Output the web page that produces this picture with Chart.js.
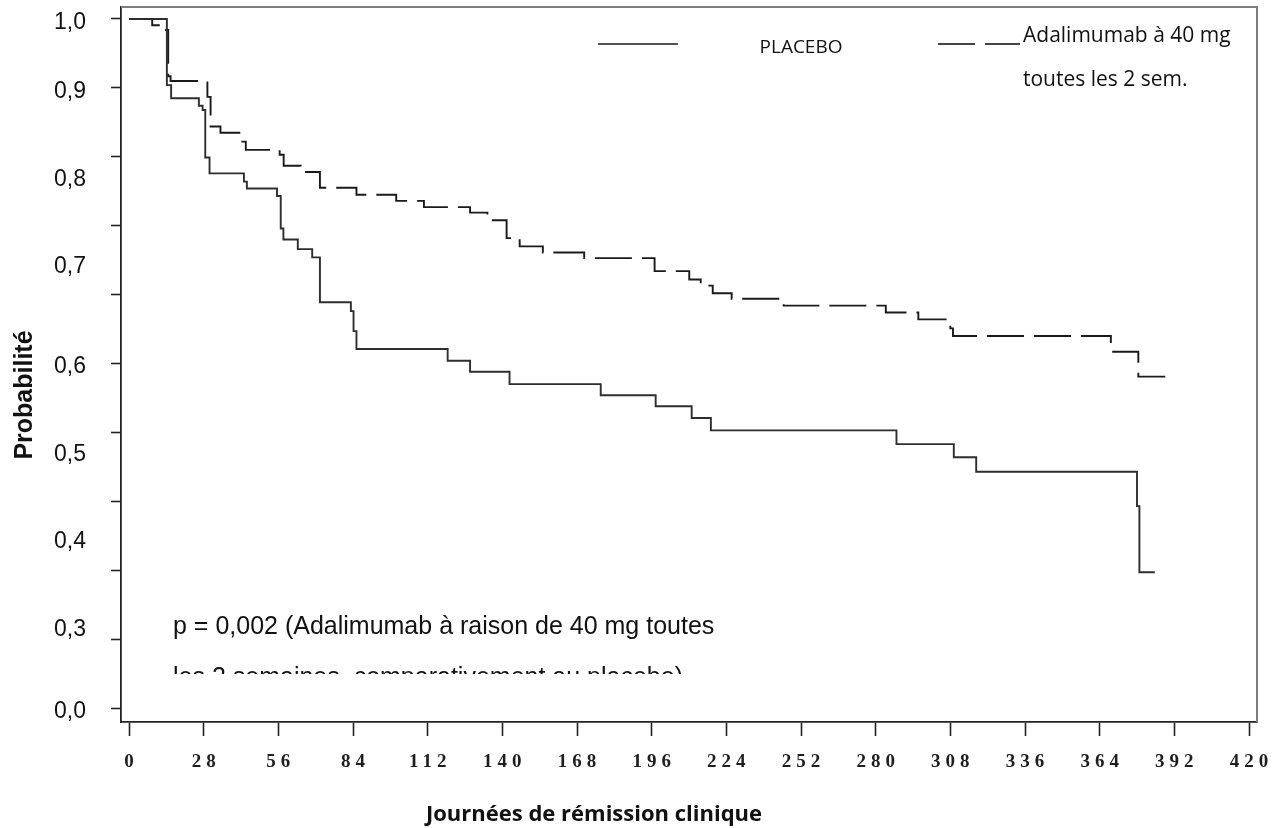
<!DOCTYPE html>
<html lang="fr">
<head>
<meta charset="utf-8">
<title>Journées de rémission clinique</title>
<script src="https://cdn.jsdelivr.net/npm/chart.js@4.4.1/dist/chart.umd.min.js"></script>
<style>
  html, body { margin: 0; padding: 0; background: #ffffff; }
  canvas { display: block; }
</style>
</head>
<body>
<canvas id="c" width="1279" height="828"></canvas>
<script>
// ---------------- data ----------------
const placeboDays = [0, 14.2, 15.8, 26.2, 27.6, 28.6, 30.2, 43.1, 44.2, 55.5, 56.9, 57.9, 63.3, 68.7, 71.6, 83.2, 84.2, 85.3, 119.5, 127.9, 142.7, 176.9, 197.5, 211.0, 218.2, 287.8, 309.3, 317.7, 378.0, 378.9, 384.7];
const placeboSurv = [1.0, 0.904, 0.885, 0.874, 0.868, 0.799, 0.776, 0.764, 0.754, 0.743, 0.696, 0.680, 0.666, 0.654, 0.589, 0.576, 0.547, 0.521, 0.504, 0.488, 0.470, 0.454, 0.438, 0.421, 0.403, 0.383, 0.364, 0.343, 0.293, 0.197, 0.197];

const adaDays = [0, 8.7, 12.9, 14.7, 15.6, 29.4, 30.6, 34.3, 42.5, 43.8, 56.5, 58.0, 64.4, 71.6, 85.3, 100.2, 110.6, 127.9, 134.4, 141.6, 146.5, 155.2, 170.7, 197.1, 210.1, 214.4, 218.9, 226.0, 245.5, 283.8, 296.0, 308.0, 309.0, 368.2, 378.5, 388.6];
const adaSurv = [1.0, 0.991, 0.984, 0.917, 0.910, 0.887, 0.844, 0.835, 0.822, 0.810, 0.803, 0.787, 0.778, 0.755, 0.745, 0.736, 0.727, 0.719, 0.708, 0.682, 0.670, 0.661, 0.653, 0.634, 0.622, 0.613, 0.602, 0.594, 0.584, 0.574, 0.564, 0.551, 0.540, 0.517, 0.481, 0.481];

const seriesLabels = ['PLACEBO', 'Adalimumab à 40 mg', 'toutes les 2 sem.'];

const xTickValues = [0, 28, 56, 84, 112, 140, 168, 196, 224, 252, 280, 308, 336, 364, 392, 420];
const yTickValues = [0, 0.1, 0.2, 0.3, 0.4, 0.5, 0.6, 0.7, 0.8, 0.9, 1.0];
// tick labels as printed in the reference (they sit where the reference prints them)
const yLabels = ['1,0', '0,9', '0,8', '0,7', '0,6', '0,5', '0,4', '0,3', '0,0'];
const yLabelValues = [0.994, 0.894, 0.767, 0.641, 0.496, 0.368, 0.242, 0.114, -0.006];

const yTitle = 'Probabilité';
const xTitle = 'Journées de rémission clinique';
const pLine1 = 'p = 0,002 (Adalimumab à raison de 40 mg toutes';
const pLine2 = 'les 2 semaines, comparativement au placebo)';

// ---------------- build ----------------
const zip = (xs, ys) => xs.map((x, i) => ({ x: x, y: ys[i] }));
const Y_MIN = -0.0203, Y_MAX = 1.0174;

const annotate = {
  id: 'annotate',
  beforeDraw(chart) {
    // spaced digits on the x axis (as in the reference)
    const s = chart.scales.x;
    if (s && !s._spaced) {
      const orig = Chart.LinearScale.prototype.drawLabels;
      s.drawLabels = function (area) {
        const c = this.ctx;
        c.save();
        c.letterSpacing = '5px';
        c.translate(2.5, 0);
        orig.call(this, area);
        c.restore();
      };
      s._spaced = true;
    }
  },
  afterDraw(chart) {
    const ctx = chart.ctx;
    const ca = chart.chartArea;
    const ds = chart.data.datasets;
    ctx.save();
    // frame (top and right)
    ctx.strokeStyle = '#7d7d7d';
    ctx.lineWidth = 2;
    ctx.beginPath();
    ctx.moveTo(ca.left, ca.top);
    ctx.lineTo(ca.right, ca.top);
    ctx.lineTo(ca.right, ca.bottom);
    ctx.stroke();

    // y title
    ctx.save();
    ctx.translate(25, 395);
    ctx.rotate(-Math.PI / 2);
    ctx.font = 'bold 25px "Liberation Sans", Arial, sans-serif';
    ctx.fillStyle = '#111';
    ctx.textAlign = 'center';
    ctx.textBaseline = 'middle';
    ctx.fillText(yTitle, 0, 0);
    ctx.restore();

    // x title
    ctx.font = 'bold 22px "Open Sans", sans-serif';
    ctx.fillStyle = '#111';
    ctx.textAlign = 'center';
    ctx.textBaseline = 'middle';
    ctx.fillText(xTitle, 594, 815);

    // legend
    ctx.lineWidth = 2;
    ctx.strokeStyle = '#555';
    ctx.setLineDash([]);
    ctx.beginPath(); ctx.moveTo(598, 44); ctx.lineTo(678, 44); ctx.stroke();
    ctx.strokeStyle = '#444';
    ctx.setLineDash([37, 10]);
    ctx.beginPath(); ctx.moveTo(938, 44); ctx.lineTo(1020, 44); ctx.stroke();
    ctx.setLineDash([]);
    ctx.fillStyle = '#111';
    ctx.font = '19px "Open Sans", sans-serif';
    ctx.textAlign = 'center';
    ctx.fillText(seriesLabels[0], 801, 48);
    ctx.font = '21px "Open Sans", sans-serif';
    ctx.textAlign = 'left';
    ctx.fillText(seriesLabels[1], 1023, 36);
    ctx.fillText(seriesLabels[2], 1023, 80);

    // p-value note (second line cut off as in the reference)
    ctx.font = '25px "Liberation Sans", Arial, sans-serif';
    ctx.textAlign = 'left';
    ctx.textBaseline = 'alphabetic';
    ctx.fillStyle = '#111';
    ctx.fillText(pLine1, 173, 634);
    ctx.save();
    ctx.beginPath();
    ctx.rect(ca.left + 2, 600, 700, 74);
    ctx.clip();
    ctx.fillText(pLine2, 173, 685);
    ctx.restore();

    ctx.restore();
  }
};

new Chart(document.getElementById('c'), {
  type: 'line',
  data: {
    datasets: [
      {
        label: seriesLabels[0],
        data: zip(placeboDays, placeboSurv),
        stepped: true,
        borderColor: '#2e2e2e',
        borderWidth: 1.9,
        pointRadius: 0,
        fill: false,
        xAxisID: 'x',
        yAxisID: 'y'
      },
      {
        label: seriesLabels[1] + ' ' + seriesLabels[2],
        data: zip(adaDays, adaSurv),
        stepped: true,
        borderColor: '#1a1a1a',
        borderWidth: 1.9,
        borderDash: [37, 10],
        pointRadius: 0,
        fill: false,
        xAxisID: 'x',
        yAxisID: 'y'
      }
    ]
  },
  options: {
    responsive: false,
    animation: false,
    events: [],
    layout: { padding: { top: 7, right: 22, left: 0, bottom: 0 } },
    plugins: { legend: { display: false }, tooltip: { enabled: false } },
    scales: {
      x: {
        type: 'linear',
        position: 'bottom',
        min: -3,
        max: 423,
        afterBuildTicks: s => { s.ticks = xTickValues.map(v => ({ value: v })); },
        ticks: {
          autoSkip: false,
          maxRotation: 0,
          padding: 15,
          color: '#1e1e1e',
          font: { family: '"Liberation Serif", serif', weight: 'bold', size: 19 },
          callback: v => String(v)
        },
        grid: { drawOnChartArea: false, drawTicks: true, tickLength: 14, tickWidth: 1.6, tickColor: '#222' },
        border: { display: true, color: '#222', width: 1.8 },
        afterFit: s => { s.height = 106; s.paddingLeft = 0; s.paddingRight = 0; }
      },
      y: {
        type: 'linear',
        position: 'left',
        weight: 0,
        min: Y_MIN,
        max: Y_MAX,
        afterBuildTicks: s => { s.ticks = yTickValues.map(v => ({ value: v })); },
        ticks: { display: false },
        grid: { drawOnChartArea: false, drawTicks: true, tickLength: 10, tickWidth: 1.6, tickColor: '#222' },
        border: { display: true, color: '#222', width: 1.8 },
        afterFit: s => { s.width = 10; s.paddingTop = 0; s.paddingBottom = 0; }
      },
      yLab: {
        type: 'linear',
        position: 'left',
        axis: 'y',
        weight: 1,
        min: Y_MIN,
        max: Y_MAX,
        afterBuildTicks: s => { s.ticks = yLabelValues.map(v => ({ value: v })); },
        ticks: {
          autoSkip: false,
          padding: 25,
          color: '#111',
          font: { family: '"Liberation Sans", Arial, sans-serif', size: 23 },
          callback: (v, i) => yLabels[i]
        },
        grid: { display: false, drawTicks: false },
        border: { display: false },
        afterFit: s => { s.width = 111; s.paddingTop = 0; s.paddingBottom = 0; }
      }
    }
  },
  plugins: [annotate]
});
</script>
</body>
</html>
